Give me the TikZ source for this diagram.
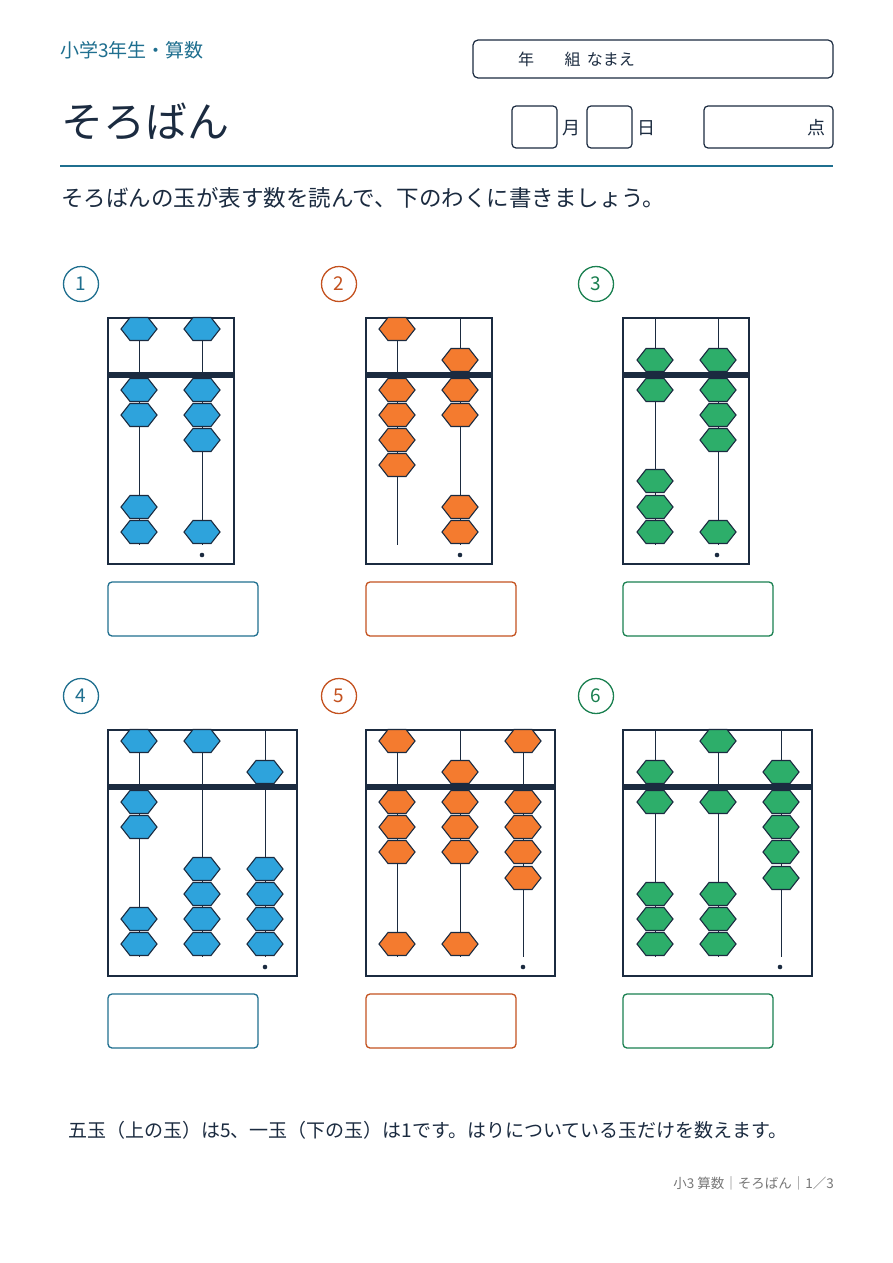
\documentclass[tikz,border=0pt]{standalone}
\usepackage{fontspec}
\setmainfont{Noto Sans CJK JP}
\usetikzlibrary{calc,positioning}
\definecolor{navy}{HTML}{1B2B40}
\definecolor{tealc}{HTML}{1F6F8F}
\definecolor{orgc}{HTML}{C4521F}
\definecolor{grnc}{HTML}{1A8050}
\definecolor{bblue}{HTML}{2EA3DC}
\definecolor{borange}{HTML}{F47B2F}
\definecolor{bgreen}{HTML}{2DAE6A}
\definecolor{graytxt}{HTML}{777777}
\tikzset{
  bead/.style={draw=navy,line width=1.1pt,fill=#1},
  rod/.style={draw=navy,line width=1pt},
  frame/.style={draw=navy,line width=1.2pt},
  answer/.style={draw=#1,line width=1.3pt,rounded corners=4pt},
  numc/.style={circle,draw=#1,line width=1.3pt,minimum size=35pt,inner sep=0pt,text=#1,font=\fontsize{19}{19}\selectfont},
}
% bead centred at (x,y)
\newcommand{\bead}[3]{\path[bead=#3] (#1-18,#2) -- (#1-9,#2-11.5) -- (#1+9,#2-11.5) -- (#1+18,#2) -- (#1+9,#2+11.5) -- (#1-9,#2+11.5) -- cycle;}
\begin{document}
\begin{tikzpicture}[x=1pt,y=-1pt]
  \useasboundingbox (0,0) rectangle (893,1263);
  \fill[white] (0,0) rectangle (893,1263);
  % header
  \node[anchor=west,text=tealc,font=\fontsize{19}{20}\selectfont,inner sep=0pt] (grade) at (60,50) {小学3年生・算数};
  \draw[navy,line width=1.2pt,rounded corners=5pt] (473,40) rectangle (833,78);
  \node[anchor=west,text=navy,font=\fontsize{16}{16}\selectfont,inner sep=0pt] (name) at (518,59) {年\hspace{1.9em}組\hspace{0.4em}なまえ};
  \node[anchor=west,text=navy,font=\fontsize{42}{44}\selectfont,inner sep=0pt] (title) at (61,122) {そろばん};
  \draw[navy,line width=1.2pt,rounded corners=4pt] (512,106) rectangle (557,148);
  \node[text=navy,font=\fontsize{18}{18}\selectfont] (month) at (571,128) {月};
  \draw[navy,line width=1.2pt,rounded corners=4pt] (587,106) rectangle (632,148);
  \node[text=navy,font=\fontsize{18}{18}\selectfont] (day) at (646,128) {日};
  \draw[navy,line width=1.2pt,rounded corners=4pt] (704,106) rectangle (833,148);
  \node[text=navy,font=\fontsize{18}{18}\selectfont] (score) at (816,128) {点};
  \draw[tealc,line width=1.5pt] (60,166) -- (833,166);
  \node[anchor=west,text=navy,font=\fontsize{22.5}{24}\selectfont,inner sep=0pt] (task) at (61,198) {そろばんの玉が表す数を読んで、下のわくに書きましょう。};
  % abacus: number, circle x, row offset, frame right, colour, bead fill, rods {x/beads}
  \foreach \n/\cx/\dy/\fr/\col/\bc/\rods in {
      1/81/0/234/tealc/bblue/{139/{329,390,415,507,532},202/{329,390,415,440,532}},
      2/339/0/492/orgc/borange/{397/{329,390,415,440,465},460/{360,390,415,507,532}},
      3/596/0/749/grnc/bgreen/{655/{360,390,481,507,532},718/{360,390,415,440,532}},
      4/81/412/297/tealc/bblue/{139/{329,390,415,507,532},202/{329,457,482,507,532},265/{360,457,482,507,532}},
      5/339/412/555/orgc/borange/{397/{329,390,415,440,532},460/{360,390,415,440,532},523/{329,390,415,440,466}},
      6/596/412/812/grnc/bgreen/{655/{360,390,482,507,532},718/{329,390,482,507,532},781/{360,390,415,440,466}}} {
    \begin{scope}[yshift=-\dy]
      \node[numc=\col] (num\n) at (\cx,284) {\n};
      \draw[frame] (\cx+27,318) rectangle (\fr,564);
      \foreach \rx/\bl in \rods {
        \draw[rod] (\rx,318) -- (\rx,545);
        \foreach \by in \bl { \bead{\rx}{\by}{\bc} }
      }
      \fill[navy] (\cx+27,372) rectangle (\fr,378);
      \fill[navy] (\fr-32,555) circle (2.3);
      \draw[answer=\col] (\cx+27,582) rectangle (\cx+177,636);
    \end{scope}
  }
  % footer
  \node[anchor=west,text=navy,font=\fontsize{19}{20}\selectfont,inner sep=0pt] (note) at (68,1130) {五玉（上の玉）は5、一玉（下の玉）は1です。はりについている玉だけを数えます。};
  \node[anchor=east,text=graytxt,font=\fontsize{13.5}{14}\selectfont,inner sep=0pt] (page) at (834,1183) {小3 算数｜そろばん｜1／3};
\end{tikzpicture}
\end{document}
